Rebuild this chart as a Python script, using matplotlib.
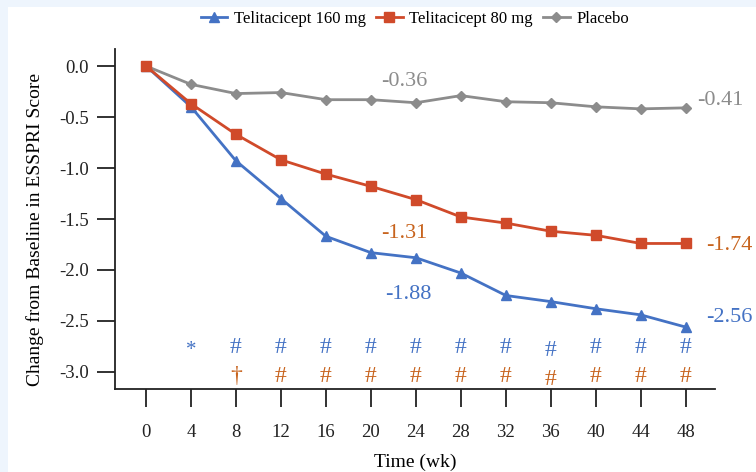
import matplotlib
matplotlib.use('Agg')
import matplotlib.pyplot as plt
from matplotlib.patches import Rectangle

weeks = [0, 4, 8, 12, 16, 20, 24, 28, 32, 36, 40, 44, 48]
tel160 = [0, -0.40, -0.93, -1.30, -1.67, -1.83, -1.88, -2.03, -2.25, -2.31, -2.38, -2.44, -2.56]
tel80 = [0, -0.37, -0.67, -0.92, -1.06, -1.18, -1.31, -1.48, -1.54, -1.62, -1.66, -1.74, -1.74]
placebo = [0, -0.18, -0.27, -0.26, -0.33, -0.33, -0.36, -0.29, -0.35, -0.36, -0.40, -0.42, -0.41]

# significance marks per visit (week 4 onward)
sig160 = ['*', '#', '#', '#', '#', '#', '#', '#', '#', '#', '#', '#']
sig80 = ['', '\u2020', '#', '#', '#', '#', '#', '#', '#', '#', '#', '#']

BLUE = '#4472C4'
RED = '#D04A2A'
ORANGE = '#C8641E'
GRAY = '#8C8C8C'

plt.rcParams['font.family'] = ['Liberation Serif', 'DejaVu Serif']

fig = plt.figure(figsize=(7.56, 4.72), dpi=100)
fig.patch.set_facecolor('#EEF5FD')
fig.patches.append(Rectangle((8 / 756, 0), 1, 1 - 7 / 472, transform=fig.transFigure,
                             facecolor='white', edgecolor='none', zorder=-10))

ax = fig.add_axes([115 / 756, 1 - 389 / 472, (715 - 115) / 756, (389 - 49) / 472])
ax.set_facecolor('none')

ax.plot(weeks, tel160, color=BLUE, lw=2, marker='^', ms=7.5, label='Telitacicept 160 mg', zorder=3)
ax.plot(weeks, tel80, color=RED, lw=2, marker='s', ms=6.5, label='Telitacicept 80 mg', zorder=3)
ax.plot(weeks, placebo, color=GRAY, lw=2, marker='D', ms=5, label='Placebo', zorder=2)

ax.set_xlim(-2.76, 50.6)
ax.set_ylim(-3.167, 0.167)
ax.set_xticks(weeks)
ax.set_yticks([0.0, -0.5, -1.0, -1.5, -2.0, -2.5, -3.0])
ax.set_yticklabels(['0.0', '-0.5', '-1.0', '-1.5', '-2.0', '-2.5', '-3.0'])
ax.tick_params(axis='both', direction='out', length=13, width=1.3, labelsize=13.5, colors='#222222')
ax.tick_params(axis='x', pad=12)
ax.tick_params(axis='y', pad=6)
for s in ['top', 'right']:
    ax.spines[s].set_visible(False)
for s in ['left', 'bottom']:
    ax.spines[s].set_linewidth(1.3)
    ax.spines[s].set_color('#222222')

ax.set_xlabel('Time (wk)', fontsize=14, labelpad=9)
ax.set_ylabel('Change from Baseline in ESSPRI Score', fontsize=14)
ax.yaxis.set_label_coords(-0.118, 0.47)

# value labels
ax.text(23, -0.15, '-0.36', color=GRAY, fontsize=16, ha='center', va='center')
ax.text(23, -1.64, '-1.31', color=ORANGE, fontsize=16, ha='center', va='center')
ax.text(23.3, -2.245, '-1.88', color=BLUE, fontsize=16, ha='center', va='center')
ax.text(49.0, -0.34, '-0.41', color=GRAY, fontsize=16, ha='left', va='center', clip_on=False)
ax.text(49.8, -1.755, '-1.74', color=ORANGE, fontsize=16, ha='left', va='center', clip_on=False)
ax.text(49.8, -2.47, '-2.56', color=BLUE, fontsize=16, ha='left', va='center', clip_on=False)

for w, m in zip(weeks[1:], sig160):
    dy = -0.03 if w == 36 else 0
    if m == '*':
        ax.text(w, -2.79, m, color=BLUE, fontsize=15, ha='center', va='center')
    else:
        ax.text(w, -2.76 + dy, m, color=BLUE, fontsize=17, ha='center', va='center')
for w, m in zip(weeks[1:], sig80):
    if m:
        dy = -0.03 if w == 36 else 0
        ax.text(w, -3.04 + dy, m, color=ORANGE, fontsize=17, ha='center', va='center')

fig.legend(loc='center', bbox_to_anchor=(415 / 756, 1 - 19 / 472), ncol=3, frameon=False,
           fontsize=12, handlelength=1.6, handletextpad=0.4, columnspacing=0.6)

fig.savefig('out.png', dpi=100, facecolor=fig.get_facecolor())
